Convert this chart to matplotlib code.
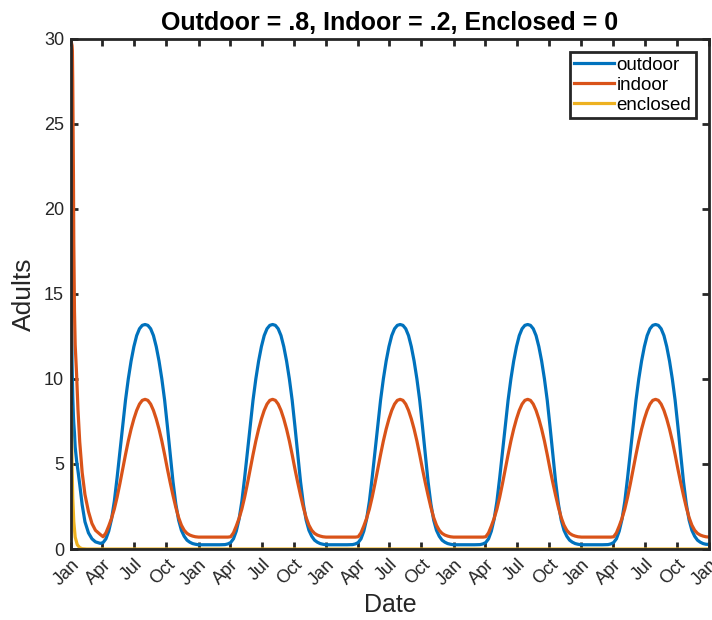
import numpy as np
import matplotlib
matplotlib.use('Agg')
import matplotlib.pyplot as plt
import matplotlib.dates as mdates

plt.rcParams['font.family'] = ['Liberation Sans', 'DejaVu Sans']

# one yearly cycle (day of year -> adults)
cycle_day = [0, 20, 40, 60, 76, 84, 92, 100, 108, 116, 124, 132, 140, 148, 156,
             164, 172, 180, 188, 196, 204, 212, 220, 228, 236, 244, 252, 260,
             268, 276, 284, 292, 300, 308, 316, 324, 332, 340, 348, 356]
outdoor_cycle = [0.25, 0.25, 0.25, 0.25, 0.26, 0.3, 0.38, 0.6, 1.05, 1.75, 2.8,
                 4.2, 5.7, 7.2, 8.75, 10.0, 11.05, 11.9, 12.55, 12.95, 13.15,
                 13.2, 13.15, 12.95, 12.55, 11.9, 11.05, 10.0, 8.75, 7.2, 5.55,
                 3.95, 2.65, 1.7, 1.1, 0.75, 0.52, 0.4, 0.32, 0.28]
indoor_cycle = [0.7, 0.7, 0.7, 0.7, 0.7, 0.7, 0.72, 0.95, 1.35, 1.8, 2.35, 3.05,
                3.85, 4.7, 5.55, 6.35, 7.05, 7.65, 8.15, 8.52, 8.74, 8.8, 8.74,
                8.52, 8.15, 7.65, 7.05, 6.35, 5.55, 4.7, 3.9, 3.15, 2.45, 1.85,
                1.4, 1.1, 0.92, 0.82, 0.76, 0.72]

# start of the first year (initial transient)
start_day = [0, 1, 3, 4, 5, 6, 7, 8, 10, 12, 16, 20, 25, 32, 40, 50, 60, 70, 84]
outdoor_start = [3.0, 17, 11, 10, 9.0, 8.4, 7.8, 7.4, 6.8, 6.0, 5.2, 4.6, 3.8,
                 2.6, 1.6, 0.95, 0.6, 0.42, 0.33]
indoor_start = [11.2, 29.8, 29.6, 29.3, 27.5, 25, 22, 18, 14, 12, 10.3, 8.2,
                6.3, 4.5, 3.2, 2.2, 1.5, 1.1, 0.85]
enclosed_day = [0, 1, 2, 3, 5, 8, 12, 18, 25, 32]
enclosed_start = [4.5, 8.4, 6.5, 5.0, 3.0, 1.6, 0.7, 0.25, 0.08, 0.02]

years = [2001, 2002, 2003, 2004, 2005]
end_date = np.datetime64('2006-01-01')
end_outdoor, end_indoor = 0.27, 0.7


def to_dates(year, days):
    return np.datetime64(f'{year}-01-01') + np.array(days).astype('timedelta64[D]')


cd = np.array(cycle_day)
oc = np.array(outdoor_cycle)
ic = np.array(indoor_cycle)
keep = cd >= 92

t_list = [to_dates(years[0], start_day), to_dates(years[0], cd[keep])]
out_list = [outdoor_start, oc[keep]]
ind_list = [indoor_start, ic[keep]]
for yr in years[1:]:
    t_list.append(to_dates(yr, cd))
    out_list.append(oc)
    ind_list.append(ic)
t_list.append(np.array([end_date]))
out_list.append([end_outdoor])
ind_list.append([end_indoor])

t = np.concatenate(t_list)
outdoor = np.concatenate(out_list)
indoor = np.concatenate(ind_list)

t_enc = np.concatenate([to_dates(years[0], enclosed_day + [45]), [end_date]])
enclosed = enclosed_start + [0, 0]

dark = '#262626'
fig = plt.figure(figsize=(7.12, 6.2), dpi=100)
ax = fig.add_axes([0.0997, 0.1145, 0.8961, 0.823])

ax.plot(t, outdoor, color='#0072BD', lw=2.3, label='outdoor')
ax.plot(t, indoor, color='#D95319', lw=2.3, label='indoor')
ax.plot(t_enc, enclosed, color='#EDB120', lw=2.3, label='enclosed')

ax.set_xlim(np.datetime64('2001-01-01'), end_date)
ax.set_ylim(0, 30)
ax.set_yticks(range(0, 31, 5))
ax.xaxis.set_major_locator(mdates.MonthLocator(bymonth=[1, 4, 7, 10]))
ax.xaxis.set_major_formatter(mdates.DateFormatter('%b'))
for lab in ax.get_xticklabels():
    lab.set_rotation(45)
    lab.set_ha('right')
    lab.set_rotation_mode('anchor')

ax.tick_params(direction='in', top=True, right=True, length=5, width=2,
               color=dark, labelcolor=dark, labelsize=13, pad=5)
for s in ax.spines.values():
    s.set_linewidth(2)
    s.set_color(dark)

ax.set_xlabel('Date', fontsize=18, color=dark, labelpad=3)
ax.set_ylabel('Adults', fontsize=19, color=dark, labelpad=6)
ax.set_title('Outdoor = .8, Indoor = .2, Enclosed = 0', fontsize=18,
             fontweight='bold', pad=6)

leg = ax.legend(loc='upper right', fontsize=13.5, handlelength=2.1,
                handletextpad=0.15, labelspacing=0.15, borderpad=0.25,
                borderaxespad=0.7, fancybox=False, framealpha=1)
leg.get_frame().set_edgecolor(dark)
leg.get_frame().set_linewidth(2)

fig.savefig('out.png', dpi=100)
